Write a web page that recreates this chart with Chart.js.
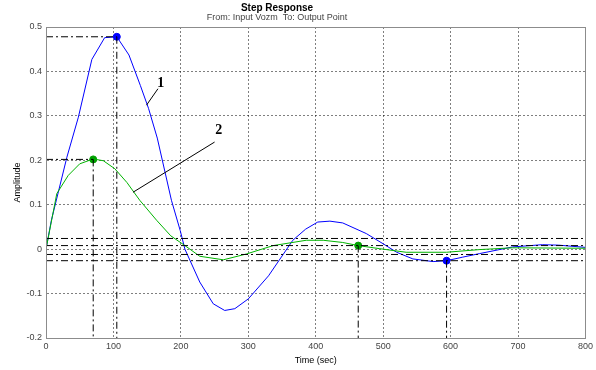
<!DOCTYPE html>
<html><head><meta charset="utf-8">
<script src="https://cdn.jsdelivr.net/npm/chart.js@4/dist/chart.umd.min.js"></script>
<style>html,body{margin:0;padding:0;background:#fff}#w{width:596px;height:370px}</style>
</head><body><div id="w"><canvas id="c" width="596" height="370"></canvas></div>
<script>
// Curve 1 (blue)
const blueT = [0, 8, 31, 48, 68, 87, 105, 123, 140, 152, 165, 186, 199, 206, 228, 248, 265, 280, 300, 330, 366, 385, 403, 421, 440, 475, 500, 520, 544, 574, 594, 618, 643, 692, 736, 760, 800];
const blueY = [0, 0.065, 0.207, 0.297, 0.427, 0.476, 0.478, 0.437, 0.368, 0.317, 0.25, 0.11, 0.042, 0.0, -0.074, -0.123, -0.138, -0.134, -0.112, -0.06, 0.02, 0.045, 0.061, 0.063, 0.059, 0.035, 0.012, -0.007, -0.022, -0.028, -0.026, -0.018, -0.010, 0.005, 0.010, 0.009, 0.004];
// Curve 2 (green)
const greenT = [0, 16, 33, 50, 70, 85, 102, 120, 139, 164, 185, 206, 228, 263, 297, 337, 386, 411, 440, 463, 495, 534, 594, 643, 692, 800];
const greenY = [0, 0.125, 0.166, 0.192, 0.203, 0.199, 0.181, 0.15, 0.11, 0.065, 0.03, 0.008, -0.016, -0.024, -0.011, 0.008, 0.02, 0.02, 0.015, 0.008, 0.001, -0.007, -0.007, -0.001, 0.003, 0.002];
// Characteristic points
const bluePeak = [105, 0.478];
const greenPeak = [70, 0.202];
const blueSettle = [594, -0.026];
const greenSettle = [463, 0.008];
// Horizontal tolerance bands
const bandLevels = [0.024, 0.008, -0.012, -0.026];
// Axis
const xTicks = [0, 100, 200, 300, 400, 500, 600, 700, 800];
const yTicks = [-0.2, -0.1, 0, 0.1, 0.2, 0.3, 0.4, 0.5];
// Curve labels
const labelNames = ['1', '2'];
const labelLeaders = [[149, 0.324, 166, 0.361], [129, 0.128, 250, 0.241]];
const labelPos = [[170, 0.373], [256, 0.267]];

const xMin = 0, xMax = 800, yMin = -0.2, yMax = 0.5;
const pts = (T, Y) => T.map((t, i) => ({x: t, y: Y[i]}));
const DD = [7, 3, 2, 3];

const datasets = [];
bandLevels.forEach(v => datasets.push({data: [{x: xMin, y: v}, {x: xMax, y: v}], borderColor: '#000', borderWidth: 1, borderDash: DD, pointRadius: 0}));
[bluePeak, greenPeak].forEach(p => {
  datasets.push({data: [{x: xMin, y: p[1]}, {x: p[0], y: p[1]}], borderColor: '#000', borderWidth: 1, borderDash: DD, pointRadius: 0});
});
[bluePeak, greenPeak, blueSettle, greenSettle].forEach(p => {
  datasets.push({data: [{x: p[0], y: p[1]}, {x: p[0], y: yMin}], borderColor: '#000', borderWidth: 1, borderDash: DD, pointRadius: 0});
});
labelLeaders.forEach(l => datasets.push({data: [{x: l[0], y: l[1]}, {x: l[2], y: l[3]}], borderColor: '#000', borderWidth: 1, pointRadius: 0}));
datasets.push({data: pts(greenT, greenY), borderColor: '#00b400', borderWidth: 1, pointRadius: 0});
datasets.push({data: pts(blueT, blueY), borderColor: '#0000ff', borderWidth: 1, pointRadius: 0});
datasets.push({data: [{x: greenPeak[0], y: greenPeak[1]}, {x: greenSettle[0], y: greenSettle[1]}], showLine: false, pointRadius: 3.5, pointBackgroundColor: '#00a000', pointBorderColor: '#00a000'});
datasets.push({data: [{x: bluePeak[0], y: bluePeak[1]}, {x: blueSettle[0], y: blueSettle[1]}], showLine: false, pointRadius: 3.5, pointBackgroundColor: '#0000ff', pointBorderColor: '#0000ff'});

const extras = {
  id: 'extras',
  afterDraw(chart) {
    const ctx = chart.ctx, a = chart.chartArea, xs = chart.scales.x, ys = chart.scales.y;
    ctx.save();
    ctx.strokeStyle = '#8c8c8c'; ctx.lineWidth = 1; ctx.setLineDash([]);
    const L = Math.round(a.left) + 0.5, T = Math.round(a.top) + 0.5, R = Math.round(a.right) + 0.5, B = Math.round(a.bottom) + 0.5;
    ctx.strokeRect(L, T, R - L, B - T);
    ctx.textAlign = 'center'; ctx.textBaseline = 'middle';
    ctx.fillStyle = '#000';
    ctx.font = 'bold 10px "Liberation Sans", Arial, sans-serif';
    ctx.fillText('Step Response', 277, 8);
    ctx.fillStyle = '#444';
    ctx.font = '9px "Liberation Sans", Arial, sans-serif';
    ctx.fillText('From: Input Vozm  To: Output Point', 277, 18);
    ctx.fillStyle = '#000';
    ctx.font = 'bold 14px "Liberation Serif", "Times New Roman", serif';
    labelNames.forEach((n, i) => ctx.fillText(n, xs.getPixelForValue(labelPos[i][0]), ys.getPixelForValue(labelPos[i][1])));
    ctx.restore();
  }
};

new Chart(document.getElementById('c'), {
  type: 'line',
  data: {datasets},
  plugins: [extras],
  options: {
    responsive: false, animation: false, devicePixelRatio: 1,
    layout: {padding: {top: 27, right: 10, left: 0, bottom: 0}},
    plugins: {legend: {display: false}, tooltip: {enabled: false}, title: {display: false}},
    elements: {line: {tension: 0, fill: false}},
    scales: {
      x: {
        type: 'linear', min: xMin, max: xMax,
        afterBuildTicks: s => { s.ticks = xTicks.map(v => ({value: v})); },
        afterFit: s => { s.height = 32; },
        ticks: {color: '#444', font: {size: 9, family: '"Liberation Sans", Arial, sans-serif'}, padding: 3, maxRotation: 0},
        grid: {color: 'rgba(0,0,0,0.5)', drawTicks: false},
        border: {color: '#8c8c8c', dash: [2, 2]},
        title: {display: true, text: 'Time (sec)', color: '#000', font: {size: 9, family: '"Liberation Sans", Arial, sans-serif'}, padding: {top: 0, bottom: 4}}
      },
      y: {
        type: 'linear', min: yMin, max: yMax,
        afterBuildTicks: s => { s.ticks = yTicks.map(v => ({value: v})); },
        afterFit: s => { s.width = 46; },
        ticks: {color: '#444', font: {size: 9, family: '"Liberation Sans", Arial, sans-serif'}, padding: 4,
          callback: v => String(Math.round(v * 10) / 10)},
        grid: {color: 'rgba(0,0,0,0.5)', drawTicks: false},
        border: {color: '#8c8c8c', dash: [2, 2]},
        title: {display: true, text: 'Amplitude', color: '#000', font: {size: 9, family: '"Liberation Sans", Arial, sans-serif'}, padding: {top: 12, bottom: 0}}
      }
    }
  }
});
</script></body></html>
